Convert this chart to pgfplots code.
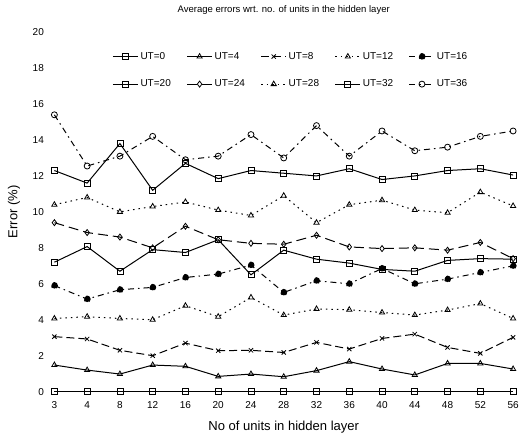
\documentclass[border=0pt]{standalone}
\usepackage{pgfplots}
\pgfplotsset{compat=1.18}
\usepackage{pgfplotstable}
\usepackage{fontspec}
\setmainfont{Liberation Sans}

% errors (%) per hidden-layer size, one column per UT
\pgfplotstableread{
x ut0 ut4 ut8 ut12 ut16 ut20 ut24 ut28 ut32 ut36
0 0 1.48 3.06 4.07 5.90 7.20 9.40 10.40 12.30 15.40
1 0 1.20 2.93 4.17 5.15 8.07 8.85 10.80 11.60 12.55
2 0 0.98 2.30 4.07 5.67 6.70 8.60 10.00 13.80 13.10
3 0 1.48 2.00 4.00 5.80 7.90 8.00 10.30 11.20 14.20
4 0 1.41 2.70 4.78 6.35 7.74 9.20 10.55 12.70 12.90
5 0 0.85 2.28 4.17 6.54 8.45 8.45 10.10 11.85 13.10
6 0 0.98 2.30 5.24 7.04 6.50 8.25 9.80 12.30 14.30
7 0 0.83 2.18 4.26 5.52 7.87 8.20 10.90 12.15 13.00
8 0 1.17 2.74 4.60 6.17 7.37 8.70 9.40 12.00 14.80
9 0 1.67 2.37 4.56 6.00 7.15 8.05 10.40 12.40 13.10
10 0 1.26 2.96 4.40 6.85 6.80 7.96 10.65 11.80 14.50
11 0 0.93 3.20 4.26 6.00 6.70 8.00 10.10 12.00 13.40
12 0 1.57 2.46 4.54 6.26 7.30 7.87 9.95 12.30 13.60
13 0 1.57 2.13 4.90 6.63 7.40 8.30 11.10 12.40 14.20
14 0 1.26 3.02 4.07 7.00 7.37 7.40 10.33 12.05 14.50
}\errdata

\begin{document}
\begin{tikzpicture}
\begin{axis}[
  scale only axis, width=458pt, height=359pt,
  xmin=0, xmax=14, ymin=0, ymax=20,
  xtick={0,...,14},
  xticklabels={3,4,8,12,16,20,24,28,32,36,40,44,48,52,56},
  ytick={0,2,...,20},
  axis line style={draw=none}, major tick length=0pt,
  tick label style={font=\fontsize{10}{12}\selectfont},
  /pgf/number format/assume math mode=true,
  xticklabel style={yshift=-6pt}, yticklabel style={xshift=-7pt},
  clip=false,
  title={Average errors wrt. no. of units in the hidden layer},
  title style={font=\fontsize{9.5}{11}\selectfont, inner ysep=6pt, yshift=5pt},
  xlabel={No of units in hidden layer},
  xlabel style={font=\fontsize{13}{15}\selectfont, yshift=-6pt},
  ylabel={Error (\%)},
  ylabel style={font=\fontsize{13}{15}\selectfont, inner ysep=8pt, yshift=1pt},
  every axis plot/.append style={black, line width=1pt, mark size=3pt,
    mark options={solid, fill=white, line width=0.8pt}},
  legend columns=5,
  legend style={draw=none, fill=none, at={(0.5,1)}, anchor=north,
    xshift=10pt, yshift=-16pt, font=\fontsize{10}{12}\selectfont,
    row sep=15pt, /tikz/every even column/.append style={column sep=8pt}},
  legend image code/.code={\draw[mark repeat=2,mark phase=2,#1]
    plot coordinates {(0pt,0pt) (12.5pt,0pt) (25pt,0pt)};},
]
\addplot[mark=square] table[x=x,y=ut0]{\errdata};
\addlegendentry{\makebox[36pt][l]{UT=0}}
\addplot[mark=triangle] table[x=x,y=ut4]{\errdata};
\addlegendentry{\makebox[36pt][l]{UT=4}}
\addplot[mark=x, dash pattern=on 8pt off 4pt] table[x=x,y=ut8]{\errdata};
\addlegendentry{\makebox[36pt][l]{UT=8}}
\addplot[mark=triangle, dash pattern=on 1.5pt off 4pt] table[x=x,y=ut12]{\errdata};
\addlegendentry{\makebox[36pt][l]{UT=12}}
\addplot[mark=*, mark options={fill=black}, dash pattern=on 6pt off 4pt on 1.5pt off 4pt] table[x=x,y=ut16]{\errdata};
\addlegendentry{\makebox[36pt][l]{UT=16}}
\addplot[mark=square] table[x=x,y=ut20]{\errdata};
\addlegendentry{\makebox[36pt][l]{UT=20}}
\addplot[mark=diamond, dash pattern=on 10pt off 5pt] table[x=x,y=ut24]{\errdata};
\addlegendentry{\makebox[36pt][l]{UT=24}}
\addplot[mark=triangle, dash pattern=on 1.5pt off 4pt] table[x=x,y=ut28]{\errdata};
\addlegendentry{\makebox[36pt][l]{UT=28}}
\addplot[mark=square] table[x=x,y=ut32]{\errdata};
\addlegendentry{\makebox[36pt][l]{UT=32}}
\addplot[mark=o, dash pattern=on 6pt off 4pt on 1.5pt off 4pt] table[x=x,y=ut36]{\errdata};
\addlegendentry{\makebox[36pt][l]{UT=36}}
\end{axis}
\end{tikzpicture}
\end{document}
